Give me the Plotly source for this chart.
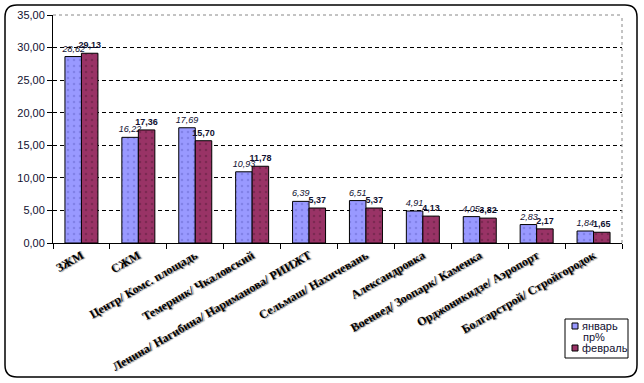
import plotly.graph_objects as go

categories = ["ЗЖМ", "СЖМ", "Центр/ Комс. площадь", "Темерник/ Чкаловский",
              "Ленина/ Нагибина/ Нариманова/ РИИЖТ", "Сельмаш/ Нахичевань",
              "Александровка", "Военвед/ Зоопарк/ Каменка",
              "Орджоникидзе/ Аэропорт", "Болгарстрой/ Стройгородок"]
january = [28.62, 16.22, 17.69, 10.93, 6.39, 6.51, 4.91, 4.05, 2.83, 1.84]
february = [29.13, 17.36, 15.70, 11.78, 5.37, 5.37, 4.13, 3.82, 2.17, 1.65]
y_ticks = [0, 5, 10, 15, 20, 25, 30, 35]
series_names = ["январь", "февраль"]
legend_note = "пр%"
colors = ["#9999FF", "#993366"]

W, H = 644, 383
L, R, T, B = 53, 22, 15, 140
pw, ph = W - L - R, H - T - B

def px(x):
    return (x - L) / pw

def py(y):
    return (H - B - y) / ph

fig = go.Figure()
fig.add_trace(go.Bar(
    x=categories, y=january, name=series_names[0],
    marker=dict(color=colors[0], line=dict(color="black", width=1),
                pattern=dict(shape=".", bgcolor=colors[0], fgcolor="#6a6ad0", size=6, solidity=0.15)),
    texttemplate="%{y:.2f}", textposition="outside", constraintext="none", cliponaxis=False,
    textfont=dict(family="Arial, Liberation Sans", size=9, color="#101030", style="italic"),
))
fig.add_trace(go.Bar(
    x=categories, y=february, name=series_names[1],
    marker=dict(color=colors[1], line=dict(color="black", width=1),
                pattern=dict(shape=".", bgcolor=colors[1], fgcolor="#5e1f3e", size=6, solidity=0.15)),
    texttemplate="%{y:.2f}", textposition="outside", constraintext="none", cliponaxis=False,
    textfont=dict(family="Arial, Liberation Sans", size=9, color="#101030", weight="bold"),
))

# outer rounded frame (paper coords)
x0, x1, y0, y1, r = 5, 637, 5, 377, 12
path = (f"M {px(x0+r)},{py(y0)} L {px(x1-r)},{py(y0)} Q {px(x1)},{py(y0)} {px(x1)},{py(y0+r)} "
        f"L {px(x1)},{py(y1-r)} Q {px(x1)},{py(y1)} {px(x1-r)},{py(y1)} "
        f"L {px(x0+r)},{py(y1)} Q {px(x0)},{py(y1)} {px(x0)},{py(y1-r)} "
        f"L {px(x0)},{py(y0+r)} Q {px(x0)},{py(y0)} {px(x0+r)},{py(y0)} Z")

shapes = [
    dict(type="path", xref="paper", yref="paper", path=path,
         line=dict(color="black", width=1.5), layer="above"),
    # plot-area top/right border: grey dotted
    dict(type="line", xref="paper", yref="paper", x0=px(L + 1), x1=1, y0=1, y1=1,
         line=dict(color="white", width=2), layer="above"),
    dict(type="line", xref="paper", yref="paper", x0=0, x1=1, y0=1, y1=1,
         line=dict(color="#888888", width=1, dash="dot"), layer="above"),
    dict(type="line", xref="paper", yref="paper", x0=1, x1=1, y0=0, y1=1,
         line=dict(color="#888888", width=1, dash="dot"), layer="above"),
    # legend box
    dict(type="rect", xref="paper", yref="paper",
         x0=px(565), x1=px(628), y0=py(319), y1=py(358),
         line=dict(color="black", width=1), fillcolor="white", layer="above"),
]
annotations = []
legend_rows = [(series_names[0], 326, colors[0]), (legend_note, 337, None), (series_names[1], 348, colors[1])]
for name, yy, col in legend_rows:
    if col:
        shapes.append(dict(type="rect", xref="paper", yref="paper",
                           x0=px(572), x1=px(578), y0=py(yy - 3), y1=py(yy + 3),
                           line=dict(color="black", width=1), fillcolor=col, layer="above"))
        xt = 580
    else:
        xt = 581
    annotations.append(dict(text=name, xref="paper", yref="paper", x=px(xt), y=py(yy),
                            xanchor="left", yanchor="middle", showarrow=False,
                            font=dict(family="Arial, Liberation Sans", size=11, color="#101030")))

fig.update_layout(
    width=W, height=H,
    margin=dict(l=L, r=R, t=T, b=B),
    paper_bgcolor="white", plot_bgcolor="white",
    barmode="group", bargap=0.42, bargroupgap=0,
    separators=",.",
    font=dict(family="Arial, Liberation Sans", size=11, color="black"),
    showlegend=False,
    shapes=shapes,
    annotations=annotations,
)
fig.update_xaxes(
    type="category", tickson="boundaries", ticks="outside", ticklen=5,
    tickcolor="black", showline=True, linecolor="black", linewidth=1,
    tickangle=-30, automargin=False,
    tickfont=dict(family="Liberation Serif, Times New Roman", size=12, color="black",
                  weight="bold", shadow="1px 1px 1px #888"),
)
fig.update_yaxes(
    range=[0, 35], tickvals=y_ticks, tickformat=".2f",
    ticks="outside", ticklen=5, tickcolor="black",
    showline=True, linecolor="black", linewidth=1,
    showgrid=True, gridcolor="black", gridwidth=1, griddash="4px,3px",
    zeroline=False, automargin=False,
    tickfont=dict(family="Arial, Liberation Sans", size=11, color="#101030"),
)

fig.write_html("out.html", config={"displayModeBar": False},
               post_script="document.body.style.margin='0';document.body.style.overflow='hidden';")
